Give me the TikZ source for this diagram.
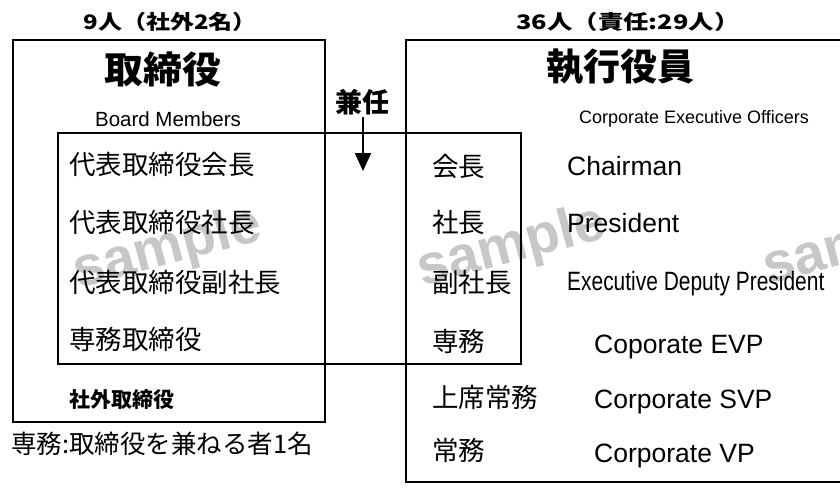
\documentclass[tikz,border=0pt]{standalone}
\usepackage{fontspec}
\usepackage{graphicx}
\setmainfont{Liberation Sans}
\newfontfamily\jp{Noto Sans CJK JP}
\usetikzlibrary{arrows.meta}
\begin{document}
\begin{tikzpicture}[x=1pt,y=-1pt,
  outerbox/.style={draw, line width=1.8pt},
  innerbox/.style={draw, line width=1.3pt},
  jtxt/.style={font=\jp\fontsize{26.5}{26.5}\selectfont, anchor=west, inner sep=0pt},
  etxt/.style={font=\fontsize{26.5}{27}\selectfont, anchor=base west, inner sep=0pt},
  hdr/.style={font=\jp\bfseries\fontsize{20}{20}\selectfont, inner sep=0pt},
  big/.style={font=\jp\bfseries\fontsize{37}{37}\selectfont, inner sep=0pt},
  wm/.style={font=\bfseries\fontsize{56}{56}\selectfont, text=black!22, rotate=15, inner sep=0pt},
]
\useasboundingbox (0,0) rectangle (840,488);
% watermarks
\node[wm] (wm1) at (168,250) {sample};
\node[wm] (wm2) at (512,248) {sample};
\node[wm] (wm3) at (858,246) {sample};
% boxes
\draw[outerbox] (13,40) rectangle (325,422);
\draw[outerbox] (406,40) rectangle (860,482);
\draw[innerbox] (58,133) rectangle (521,364);
% headers
\node[hdr] (hl) at (170,22) {\scalebox{1.2}[1]{9人（社外2名）}};
\node[hdr] (hr) at (628,22) {\scalebox{1.27}[1]{36人（責任:29人）}};
\node[big] (tl) at (163,70) {\scalebox{1.05}[1]{取締役}};
\node[big] (tr) at (620,67) {執行役員};
\node[font=\fontsize{20.5}{20.5}\selectfont, anchor=base, inner sep=0pt] (bm) at (168,126) {Board Members};
\node[font=\fontsize{18}{18}\selectfont, anchor=base, inner sep=0pt] (ceo) at (694,123) {Corporate Executive Officers};
\node[font=\jp\bfseries\fontsize{27}{27}\selectfont, inner sep=0pt] (ken) at (362,102) {兼任};
\coordinate (tip) at (363,171);
\draw[line width=2pt, -{Triangle[length=18pt,width=16pt]}] (ken.south -| tip) ++(0,2) -- (tip);
% left list
\node[jtxt] (l1) at (69,164) {代表取締役会長};
\node[jtxt] (l2) at (69,222) {代表取締役社長};
\node[jtxt] (l3) at (69,282) {代表取締役副社長};
\node[jtxt] (l4) at (69,339) {専務取締役};
\node[jtxt, font=\jp\bfseries\fontsize{21}{21}\selectfont] (l5) at (69,400) {社外取締役};
\node[jtxt, font=\jp\fontsize{25.5}{25.5}\selectfont] (note) at (11,444) {専務:取締役を兼ねる者1名};
% right list
\node[jtxt] (r1) at (432,166) {会長};
\node[jtxt] (r2) at (432,222) {社長};
\node[jtxt] (r3) at (432,282) {副社長};
\node[jtxt] (r4) at (432,341) {専務};
\node[jtxt] (r5) at (432,397) {上席常務};
\node[jtxt] (r6) at (432,450) {常務};
\node[etxt] (e1) at (567,175) {Chairman};
\node[etxt] (e2) at (567,232) {President};
\node[etxt] (e3) at (567,290) {\scalebox{0.79}[1]{Executive Deputy President}};
\node[etxt] (e4) at (594,353) {Coporate EVP};
\node[etxt] (e5) at (594,408) {Corporate SVP};
\node[etxt] (e6) at (594,462) {Corporate VP};
\end{tikzpicture}
\end{document}
